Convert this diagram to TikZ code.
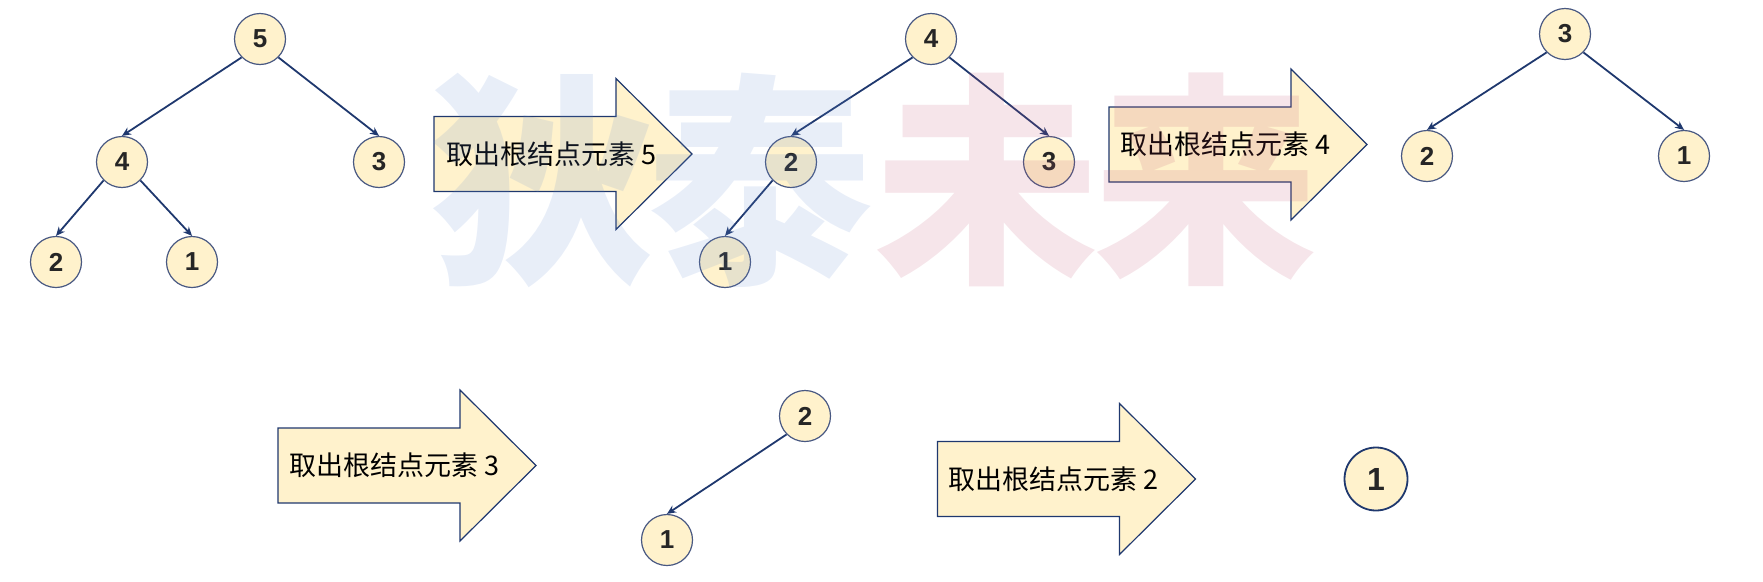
\documentclass[tikz,border=0pt]{standalone}
\usepackage{fontspec}
\setmainfont{Liberation Sans}
\newfontfamily\cjk{Noto Sans CJK SC}
\usetikzlibrary{arrows.meta}
\definecolor{navy}{RGB}{31,56,110}
\definecolor{cream}{RGB}{255,242,204}
\definecolor{nodeborder}{RGB}{72,88,130}
\definecolor{wmblue}{RGB}{100,140,210}
\definecolor{wmpink}{RGB}{192,80,112}
\newcommand\bigarr[2]{%
  \draw[bigarrow] (#1,#2-37.5) -- ++(182,0) -- ++(0,-38) -- (#1+258,#2)
    -- (#1+182,#2+75.5) -- ++(0,-38) -- (#1,#2+37.5) -- cycle;}
\begin{document}
\begin{tikzpicture}[x=1pt,y=-1pt,
  tnode/.style={circle, draw=nodeborder, line width=1.2pt, fill=cream,
    minimum size=51pt, inner sep=0pt,
    font=\fontsize{26}{26}\selectfont\bfseries, text=black!85},
  bignode/.style={tnode, draw=navy, line width=1.8pt, minimum size=63pt,
    font=\fontsize{32}{32}\selectfont\bfseries},
  edge/.style={draw=navy, line width=1.8pt, -{Stealth[length=9pt,width=8pt]}},
  bigarrow/.style={draw=navy, line width=1.2pt, fill=cream, line join=miter},
  atext/.style={anchor=west, inner sep=0pt, font=\cjk\fontsize{27}{27}\selectfont},
  wm/.style={inner sep=0pt, text opacity=0.15,
    font=\cjk\bfseries\fontsize{225}{225}\selectfont},
]
\useasboundingbox (0,0) rectangle (1763,581);

% ---- tree 1
\node[tnode] (a5) at (260,39) {5};
\node[tnode] (a4) at (122,162) {4};
\node[tnode] (a3) at (379,162) {3};
\node[tnode] (a2) at (56,262) {2};
\node[tnode] (a1) at (192,262) {1};
\draw[edge] (a5.-135) -- (a4.north);
\draw[edge] (a5.-45) -- (a3.north);
\draw[edge] (a4.-135) -- (a2.north);
\draw[edge] (a4.-45) -- (a1.north);

% ---- arrow 1
\bigarr{434}{154}
\node[atext] (t1) at (446,154) {取出根结点元素 5};

% ---- tree 2
\node[tnode] (b4) at (931,39) {4};
\node[tnode] (b2) at (791,162) {2};
\node[tnode] (b3) at (1049,162) {3};
\node[tnode] (b1) at (725,262) {1};
\draw[edge] (b4.-135) -- (b2.north);
\draw[edge] (b4.-45) -- (b3.north);
\draw[edge] (b2.-135) -- (b1.north);

% ---- arrow 2
\bigarr{1109}{144.5}
\node[atext] (t2) at (1120,144.5) {取出根结点元素 4};

% ---- tree 3
\node[tnode] (c3) at (1565,34) {3};
\node[tnode] (c2) at (1427,156) {2};
\node[tnode] (c1) at (1684,156) {1};
\draw[edge] (c3.-135) -- (c2.north);
\draw[edge] (c3.-45) -- (c1.north);

% ---- arrow 3
\bigarr{278}{465.5}
\node[atext] (t3) at (289,465.5) {取出根结点元素 3};

% ---- tree 4
\node[tnode] (d2) at (805,416) {2};
\node[tnode] (d1) at (667,540) {1};
\draw[edge] (d2.-135) -- (d1.north);

% ---- arrow 4
\bigarr{937.5}{479}
\node[atext] (t4) at (948,479) {取出根结点元素 2};

% ---- final node
\node[bignode] (e1) at (1376,479) {1};

% ---- watermark
\node[wm, text=wmblue] (w1) at (543,180) {狄};
\node[wm, text=wmblue] (w2) at (760,180) {泰};
\node[wm, text=wmpink] (w3) at (987,180) {未};
\node[wm, text=wmpink] (w4) at (1206,180) {来};
\end{tikzpicture}
\end{document}
